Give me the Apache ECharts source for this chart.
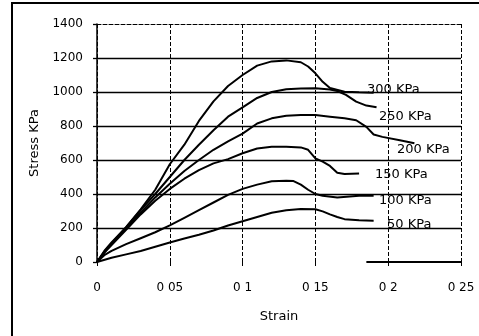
<!DOCTYPE html>
<html><head><meta charset="utf-8">
<script src="https://cdn.jsdelivr.net/npm/echarts@6/dist/echarts.min.js"></script>
<style>html,body{margin:0;padding:0;background:#fff}#c{width:479px;height:336px}</style>
</head><body><div id="c"></div>
<script>
// Data (strain, stress in KPa)
var strain300 = [0,0.005,0.01,0.02,0.03,0.04,0.05,0.06,0.07,0.08,0.09,0.1,0.11,0.12,0.13,0.14,0.145,0.15,0.155,0.16,0.17,0.18,0.19];
var stress300 = [0,65,115,205,310,425,575,690,830,945,1035,1100,1155,1180,1186,1175,1150,1110,1060,1024,1002,998,995];
var strain250 = [0,0.005,0.01,0.02,0.03,0.04,0.05,0.06,0.07,0.08,0.09,0.1,0.11,0.12,0.13,0.14,0.15,0.16,0.165,0.171,0.178,0.185,0.192];
var stress250 = [0,60,110,205,305,400,500,600,690,775,855,910,965,1000,1016,1020,1022,1015,1005,983,943,920,910];
var strain200 = [0,0.005,0.01,0.02,0.03,0.04,0.05,0.06,0.07,0.08,0.09,0.1,0.11,0.12,0.13,0.14,0.15,0.16,0.17,0.178,0.185,0.19,0.196,0.208,0.218];
var stress200 = [0,55,105,200,290,380,460,535,600,660,710,755,815,845,860,865,865,855,845,834,795,750,736,716,698];
var strain150 = [0,0.005,0.01,0.02,0.03,0.04,0.05,0.06,0.07,0.08,0.09,0.1,0.11,0.12,0.13,0.14,0.145,0.15,0.155,0.16,0.165,0.17,0.18];
var stress150 = [0,55,100,190,280,360,430,490,540,580,605,640,668,678,678,674,660,610,590,565,525,518,520];
var strain100 = [0,0.005,0.01,0.02,0.03,0.04,0.05,0.06,0.07,0.08,0.09,0.1,0.11,0.12,0.13,0.135,0.14,0.145,0.15,0.155,0.165,0.18,0.19];
var stress100 = [0,40,65,105,140,175,215,260,305,350,395,430,455,475,478,476,455,425,400,390,380,390,390];
var strain50 = [0,0.01,0.02,0.03,0.04,0.05,0.06,0.07,0.08,0.09,0.1,0.11,0.12,0.13,0.14,0.15,0.155,0.16,0.165,0.17,0.18,0.19];
var stress50 = [0,25,45,65,90,115,138,160,185,215,240,265,290,305,312,310,298,280,265,252,245,243];

var seriesNames = ['300 KPa','250 KPa','200 KPa','150 KPa','100 KPa','50 KPa'];
var xTickLabels = ['0','0 05','0 1','0 15','0 2','0 25'];
var axisStub = [0.185, 0.25];

function pairs(xs, ys){ return xs.map(function(x,i){ return [x, ys[i]]; }); }
var allData = [pairs(strain300,stress300),pairs(strain250,stress250),pairs(strain200,stress200),
               pairs(strain150,stress150),pairs(strain100,stress100),pairs(strain50,stress50)];

var FONT = 'DejaVu Sans';
var series = allData.map(function(d,i){
  var s = {name: seriesNames[i], type:'line', data:d, symbol:'none', smooth:false,
    lineStyle:{color:'#000', width:2}, silent:true, z:5};
  if(i===0){
    s.markLine = {silent:true, symbol:'none', label:{show:false},
      lineStyle:{color:'#000', width:2, type:'solid'},
      data:[[{coord:[axisStub[0],0]},{coord:[axisStub[1],0]}]]};
  }
  return s;
});

// label positions (pixels)
var labelPos = [[367,90],[379,117],[397,150],[375,175],[379,201],[387,225]];
var graphics = [{type:'rect', shape:{x:12,y:3,width:520,height:400}, style:{fill:'none', stroke:'#000', lineWidth:2}, silent:true}];
labelPos.forEach(function(p,i){
  graphics.push({type:'text', x:p[0], y:p[1], z:10,
    style:{text:seriesNames[i], font:'13px "'+FONT+'"', fill:'#000', verticalAlign:'middle', align:'left'}});
});

var chart = echarts.init(document.getElementById('c'));
chart.setOption({
  animation:false,
  backgroundColor:'#fff',
  textStyle:{fontFamily:FONT},
  grid:{left:97, right:18, top:24, bottom:74},
  xAxis:[{
    type:'value', min:0, max:0.25, interval:0.05,
    name:'Strain', nameLocation:'middle', nameGap:48,
    nameTextStyle:{color:'#000', fontSize:13, fontFamily:FONT},
    axisLine:{show:false},
    axisTick:{show:true, length:5, lineStyle:{color:'#000', width:1, type:'dashed'}},
    axisLabel:{color:'#000', fontSize:12, fontFamily:FONT, margin:20,
      formatter:function(v){ return xTickLabels[Math.round(v/0.05)]; }},
    splitLine:{show:true, lineStyle:{color:'#000', width:1, type:'dashed'}}
  },{
    type:'value', min:0, max:0.25, interval:0.05, position:'top',
    axisLine:{show:true, onZero:false, lineStyle:{color:'#000', width:1, type:'dashed'}},
    axisTick:{show:false}, axisLabel:{show:false}, splitLine:{show:false}
  }],
  yAxis:{
    type:'value', min:0, max:1400, interval:200,
    name:'Stress KPa', nameLocation:'middle', nameGap:50,
    nameTextStyle:{color:'#000', fontSize:13, fontFamily:FONT},
    axisLine:{show:true, lineStyle:{color:'#000', width:1.5}},
    axisTick:{show:true, length:4, lineStyle:{color:'#000', width:1.3}},
    axisLabel:{color:'#000', fontSize:12, fontFamily:FONT, margin:14,
      formatter:function(v){ return String(v); }},
    splitLine:{show:true, lineStyle:{width:1.3, color:['transparent','#000','#000','#000','#000','#000','#000','transparent']}}
  },
  graphic: graphics,
  series: series
});
</script></body></html>
